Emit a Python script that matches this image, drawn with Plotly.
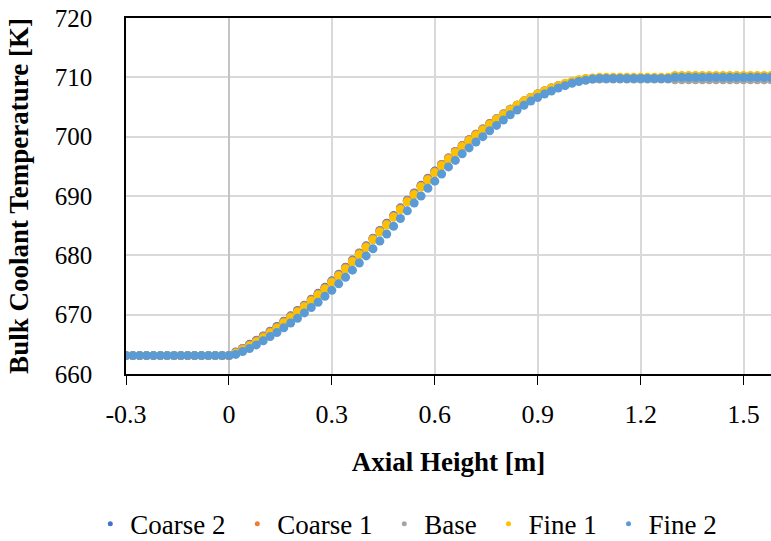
import plotly.graph_objects as go

# Axial height [m], 0.02 m spacing
x_pos = [-0.30, -0.28, -0.26, -0.24, -0.22, -0.20, -0.18, -0.16, -0.14, -0.12,
         -0.10, -0.08, -0.06, -0.04, -0.02, 0.00, 0.02, 0.04, 0.06, 0.08,
         0.10, 0.12, 0.14, 0.16, 0.18, 0.20, 0.22, 0.24, 0.26, 0.28,
         0.30, 0.32, 0.34, 0.36, 0.38, 0.40, 0.42, 0.44, 0.46, 0.48,
         0.50, 0.52, 0.54, 0.56, 0.58, 0.60, 0.62, 0.64, 0.66, 0.68,
         0.70, 0.72, 0.74, 0.76, 0.78, 0.80, 0.82, 0.84, 0.86, 0.88,
         0.90, 0.92, 0.94, 0.96, 0.98, 1.00, 1.02, 1.04, 1.06, 1.08,
         1.10, 1.12, 1.14, 1.16, 1.18, 1.20, 1.22, 1.24, 1.26, 1.28,
         1.30, 1.32, 1.34, 1.36, 1.38, 1.40, 1.42, 1.44, 1.46, 1.48,
         1.50, 1.52, 1.54, 1.56, 1.58]

fine2 = [663.1, 663.1, 663.1, 663.1, 663.1, 663.1, 663.1, 663.1, 663.1, 663.1,
         663.1, 663.1, 663.1, 663.1, 663.1, 663.1, 663.3, 663.8, 664.3, 664.9,
         665.6, 666.3, 667.0, 667.8, 668.6, 669.4, 670.3, 671.2, 672.1, 673.1,
         674.1, 675.2, 676.3, 677.5, 678.7, 679.9, 681.1, 682.4, 683.6, 684.9,
         686.2, 687.5, 688.8, 690.0, 691.3, 692.5, 693.7, 694.9, 696.0, 697.1,
         698.1, 699.1, 700.0, 701.0, 701.9, 702.8, 703.7, 704.5, 705.3, 706.0,
         706.6, 707.2, 707.7, 708.2, 708.6, 709.0, 709.3, 709.5, 709.7, 709.8,
         709.8, 709.8, 709.8, 709.8, 709.8, 709.8, 709.8, 709.8, 709.8, 709.8,
         710.0, 710.0, 710.0, 710.0, 710.0, 710.0, 710.0, 710.0, 710.0, 710.0,
         710.0, 710.0, 710.0, 710.0, 710.0]

fine1 = [663.1, 663.1, 663.1, 663.1, 663.1, 663.1, 663.1, 663.1, 663.1, 663.1,
         663.1, 663.1, 663.1, 663.1, 663.1, 663.1, 663.5, 664.1, 664.7, 665.4,
         666.1, 666.9, 667.7, 668.6, 669.5, 670.4, 671.3, 672.3, 673.3, 674.3,
         675.4, 676.5, 677.7, 678.9, 680.1, 681.3, 682.6, 683.9, 685.1, 686.4,
         687.7, 689.0, 690.2, 691.5, 692.7, 693.9, 695.1, 696.2, 697.3, 698.3,
         699.3, 700.2, 701.1, 702.0, 702.9, 703.7, 704.5, 705.3, 706.0, 706.6,
         707.2, 707.7, 708.2, 708.6, 709.0, 709.3, 709.6, 709.8, 709.9, 710.0,
         710.0, 710.0, 710.0, 710.0, 710.0, 710.0, 710.0, 710.0, 710.0, 710.0,
         710.3, 710.3, 710.3, 710.3, 710.3, 710.3, 710.3, 710.3, 710.3, 710.3,
         710.3, 710.3, 710.3, 710.3, 710.3]

base = [663.1, 663.1, 663.1, 663.1, 663.1, 663.1, 663.1, 663.1, 663.1, 663.1,
        663.1, 663.1, 663.1, 663.1, 663.1, 663.1, 663.6, 664.2, 664.8, 665.5,
        666.2, 667.0, 667.8, 668.7, 669.6, 670.5, 671.4, 672.4, 673.4, 674.4,
        675.5, 676.6, 677.8, 679.0, 680.2, 681.4, 682.7, 684.0, 685.2, 686.5,
        687.8, 689.1, 690.3, 691.6, 692.8, 694.0, 695.2, 696.3, 697.4, 698.4,
        699.4, 700.3, 701.2, 702.1, 703.0, 703.8, 704.6, 705.3, 706.0, 706.6,
        707.2, 707.7, 708.1, 708.5, 708.9, 709.2, 709.4, 709.6, 709.7, 709.7,
        709.7, 709.7, 709.7, 709.7, 709.7, 709.7, 709.7, 709.7, 709.7, 709.7,
        709.6, 709.6, 709.6, 709.6, 709.6, 709.6, 709.6, 709.6, 709.6, 709.6,
        709.6, 709.6, 709.6, 709.6, 709.6]

coarse1 = [663.1, 663.1, 663.1, 663.1, 663.1, 663.1, 663.1, 663.1, 663.1, 663.1,
           663.1, 663.1, 663.1, 663.1, 663.1, 663.1, 663.6, 664.3, 664.9, 665.6,
           666.3, 667.1, 667.9, 668.8, 669.7, 670.6, 671.5, 672.5, 673.5, 674.5,
           675.6, 676.7, 677.9, 679.1, 680.3, 681.5, 682.8, 684.1, 685.3, 686.6,
           687.9, 689.2, 690.4, 691.7, 692.9, 694.1, 695.3, 696.4, 697.5, 698.5,
           699.5, 700.4, 701.3, 702.2, 703.0, 703.8, 704.6, 705.3, 706.0, 706.6,
           707.2, 707.7, 708.2, 708.6, 708.9, 709.2, 709.5, 709.7, 709.8, 709.9,
           709.9, 709.9, 709.9, 709.9, 709.9, 709.9, 709.9, 709.9, 709.9, 709.9,
           709.9, 709.9, 709.9, 709.9, 709.9, 709.9, 709.9, 709.9, 709.9, 709.9,
           709.9, 709.9, 709.9, 709.9, 709.9]

coarse2 = [663.1, 663.1, 663.1, 663.1, 663.1, 663.1, 663.1, 663.1, 663.1, 663.1,
           663.1, 663.1, 663.1, 663.1, 663.1, 663.1, 663.7, 664.3, 665.0, 665.7,
           666.4, 667.2, 668.0, 668.9, 669.8, 670.7, 671.6, 672.6, 673.6, 674.6,
           675.7, 676.8, 678.0, 679.2, 680.4, 681.6, 682.9, 684.2, 685.4, 686.7,
           688.0, 689.3, 690.5, 691.8, 693.0, 694.2, 695.3, 696.4, 697.5, 698.5,
           699.5, 700.4, 701.3, 702.2, 703.0, 703.8, 704.6, 705.3, 706.0, 706.6,
           707.2, 707.7, 708.2, 708.6, 708.9, 709.2, 709.5, 709.7, 709.8, 709.8,
           709.8, 709.8, 709.8, 709.8, 709.8, 709.8, 709.8, 709.8, 709.8, 709.8,
           709.8, 709.8, 709.8, 709.8, 709.8, 709.8, 709.8, 709.8, 709.8, 709.8,
           709.8, 709.8, 709.8, 709.8, 709.8]

series_names = ["Coarse 2", "Coarse 1", "Base", "Fine 1", "Fine 2"]
series_values = [coarse2, coarse1, base, fine1, fine2]
series_colors = ["#4472C4", "#ED7D31", "#A5A5A5", "#FFC000", "#5B9BD5"]

x_tickvals = [-0.3, 0, 0.3, 0.6, 0.9, 1.2, 1.5]
x_ticktext = ["-0.3", "0", "0.3", "0.6", "0.9", "1.2", "1.5"]
y_tickvals = [660, 670, 680, 690, 700, 710, 720]

FONT = "Liberation Serif, Times New Roman, serif"

fig = go.Figure()
for name, vals, col in zip(series_names, series_values, series_colors):
    fig.add_trace(go.Scatter(
        x=x_pos, y=vals, mode="markers", name=name, showlegend=False,
        marker=dict(color=col, size=9, line=dict(width=0)),
    ))
# legend entries with small markers
for name, col in zip(series_names, series_colors):
    fig.add_trace(go.Scatter(
        x=[None], y=[None], mode="markers", name=name + "\u00a0",
        marker=dict(color=col, size=5),
    ))

fig.update_layout(
    width=771, height=541,
    margin=dict(l=126, r=0, t=18, b=167, autoexpand=False),
    paper_bgcolor="white", plot_bgcolor="white",
    font=dict(family=FONT, size=26, color="black"),
    showlegend=True,
    legend=dict(orientation="h", x=0.44, xanchor="center",
                yref="container", y=0.031, yanchor="middle",
                font=dict(family=FONT, size=27), itemwidth=30),
    xaxis=dict(
        range=[-0.3, 1.58], tickvals=x_tickvals, ticktext=x_ticktext,
        tickfont=dict(size=26),
        showgrid=True, gridcolor="#D9D9D9", gridwidth=1.5,
        zeroline=True, zerolinecolor="#C4C4C4", zerolinewidth=1.5,
        showline=True, linecolor="black", linewidth=1.5, mirror=True,
        ticks="outside", ticklen=9, tickcolor="black", tickwidth=1.3,
        ticklabelstandoff=7,
        title=dict(text="<b>Axial Height [m]</b>", standoff=24,
                   font=dict(family=FONT, size=27)),
    ),
    yaxis=dict(
        range=[660, 720], tickvals=y_tickvals,
        tickfont=dict(size=25),
        showgrid=True, gridcolor="#D9D9D9", gridwidth=1.5,
        zeroline=False,
        showline=True, linecolor="black", linewidth=1.5,
        ticks="", ticklabelstandoff=27,
        title=dict(text="<b>Bulk Coolant Temperature [K]</b>", standoff=18,
                   font=dict(family=FONT, size=27)),
    ),
)

fig.write_html("out.html")
